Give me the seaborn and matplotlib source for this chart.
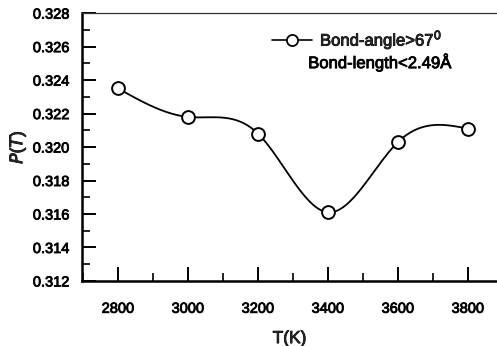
import numpy as np
import pandas as pd
import matplotlib
matplotlib.use("Agg")
import matplotlib.pyplot as plt
import matplotlib.patheffects as pe
from matplotlib.lines import Line2D
from matplotlib.ticker import MultipleLocator
import seaborn as sns

# Temperature (K) and probability P(T)
temperature = [2800, 3000, 3200, 3400, 3600, 3800]
probability = [0.3235, 0.3218, 0.3208, 0.3161, 0.3203, 0.3211]
x_ticks = [2800, 3000, 3200, 3400, 3600, 3800]
y_ticks = [0.312, 0.314, 0.316, 0.318, 0.320, 0.322, 0.324, 0.326, 0.328]
legend_line1 = "Bond-angle>67$^0$"
legend_line2 = "Bond-length<2.49Å"


def natural_spline(x, y, n=400):
    """Natural cubic spline through the points, sampled densely for a smooth curve."""
    x = np.asarray(x, float)
    y = np.asarray(y, float)
    k = len(x)
    h = np.diff(x)
    A = np.zeros((k, k))
    b = np.zeros(k)
    A[0, 0] = A[-1, -1] = 1.0
    for i in range(1, k - 1):
        A[i, i - 1] = h[i - 1]
        A[i, i] = 2 * (h[i - 1] + h[i])
        A[i, i + 1] = h[i]
        b[i] = 6 * ((y[i + 1] - y[i]) / h[i] - (y[i] - y[i - 1]) / h[i - 1])
    M = np.linalg.solve(A, b)
    xs = np.linspace(x[0], x[-1], n)
    idx = np.clip(np.searchsorted(x, xs) - 1, 0, k - 2)
    x0, x1 = x[idx], x[idx + 1]
    hh = x1 - x0
    t0, t1 = x1 - xs, xs - x0
    ys = (M[idx] * t0**3 / (6 * hh) + M[idx + 1] * t1**3 / (6 * hh)
          + (y[idx] / hh - M[idx] * hh / 6) * t0
          + (y[idx + 1] / hh - M[idx + 1] * hh / 6) * t1)
    return xs, ys


sns.set_theme(style="white")
plt.rcParams["font.family"] = ["Liberation Sans", "DejaVu Sans"]
heavy = [pe.withStroke(linewidth=0.6, foreground="black")]

fig = plt.figure(figsize=(4.97, 3.46), dpi=100)
ax = fig.add_axes([0.165, 0.188, 0.835, 0.774])

xs, ys = natural_spline(temperature, probability)
curve = pd.DataFrame({"T": xs, "P": ys})
points = pd.DataFrame({"T": temperature, "P": probability})

sns.lineplot(data=curve, x="T", y="P", ax=ax, color="black", linewidth=1.3, zorder=2)
sns.scatterplot(data=points, x="T", y="P", ax=ax, s=85, facecolor="white",
                edgecolor="black", linewidth=1.4, zorder=3)

ax.set_xlim(2697, 3883)
ax.set_ylim(0.312, 0.328)
ax.set_xticks(x_ticks)
ax.set_yticks(y_ticks)
ax.xaxis.set_minor_locator(MultipleLocator(100))
ax.yaxis.set_minor_locator(MultipleLocator(0.001))
ax.set_yticklabels([f"{v:.3f}" for v in y_ticks])

ax.tick_params(which="major", direction="in", length=10, width=1.4, colors="black",
               labelsize=10.5, bottom=True, left=True)
ax.tick_params(axis="x", which="major", pad=15)
ax.tick_params(axis="y", which="major", pad=9)
ax.tick_params(which="minor", direction="in", length=6, width=1.2, colors="black",
               bottom=True, left=True)
for lab in ax.get_xticklabels() + ax.get_yticklabels():
    lab.set_path_effects(heavy)

for side in ("left", "bottom"):
    ax.spines[side].set_linewidth(1.8)
    ax.spines[side].set_color("black")
ax.spines["top"].set_linewidth(0.9)
ax.spines["top"].set_color("#333333")
ax.spines["right"].set_visible(False)

ax.set_xlabel("T(K)", fontsize=12.5, labelpad=11, path_effects=heavy)
ax.set_ylabel("$P$($T$)", fontsize=12.5, labelpad=4, path_effects=heavy)

handle = Line2D([], [], color="black", linewidth=1.2, marker="o", markersize=8,
                markerfacecolor="white", markeredgecolor="black", markeredgewidth=1.3)
leg = ax.legend([handle], [legend_line1], loc="upper left", bbox_to_anchor=(0.457, 0.946),
                frameon=False, fontsize=12, handlelength=2.4, handletextpad=0.5,
                borderaxespad=0.0, borderpad=0.0)
for txt in leg.get_texts():
    txt.set_path_effects(heavy)
ax.text(0.545, 0.817, legend_line2, transform=ax.transAxes, fontsize=12,
        ha="left", va="center", color="black", path_effects=heavy)

fig.savefig("out.png", dpi=100)
